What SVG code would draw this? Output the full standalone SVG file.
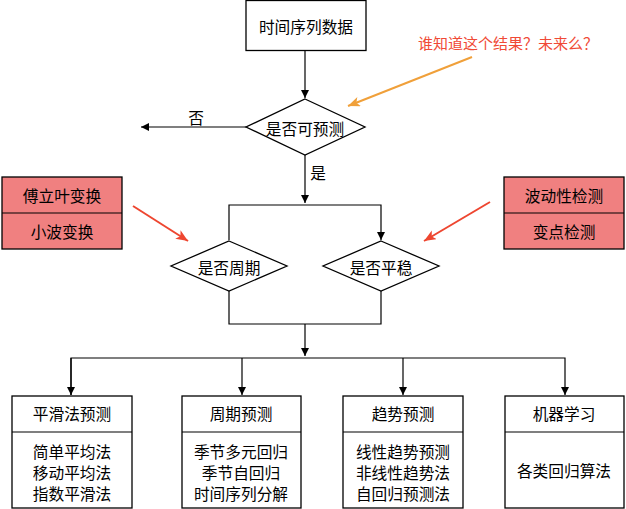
<svg xmlns="http://www.w3.org/2000/svg" width="626" height="509" viewBox="0 0 626 509">
<style>
text{font-family:"Noto Sans CJK SC","Noto Sans",sans-serif;font-size:15.7px;fill:#000;text-anchor:middle;dominant-baseline:central}
.box{fill:#fff;stroke:#000;stroke-width:1.3}
.pink{fill:#F08080;stroke:#000;stroke-width:1.3}
.ln{fill:none;stroke:#000;stroke-width:1.2}
text.red{fill:#F04A36;font-size:15px}
</style>
<defs>
<marker id="ah" markerUnits="userSpaceOnUse" markerWidth="10" markerHeight="10" refX="8" refY="4" orient="auto"><path d="M0,0 L8,4 L0,8 Z" fill="#000"/></marker>
<marker id="ahr" markerUnits="userSpaceOnUse" markerWidth="14" markerHeight="12" refX="12" refY="5" orient="auto"><path d="M0,0 L12,5 L0,10 L3,5 Z" fill="#EE4630"/></marker>
<marker id="aho" markerUnits="userSpaceOnUse" markerWidth="14" markerHeight="12" refX="12" refY="5" orient="auto"><path d="M0,0 L12,5 L0,10 L3,5 Z" fill="#F0A03A"/></marker>
</defs>
<g id="connectors">
<path class="ln" d="M305,50 V98" marker-end="url(#ah)"/>
<path class="ln" d="M246,127 H141" marker-end="url(#ah)"/>
<path class="ln" d="M305,155 V203" marker-end="url(#ah)"/>
<path class="ln" d="M229,240 V205 H381 V240" marker-end="url(#ah)"/>
<path class="ln" d="M229,291 V324 H381 V291"/>
<path class="ln" d="M305,324 V356" marker-end="url(#ah)"/>
<path class="ln" d="M71,395 V358 H565 V395" marker-end="url(#ah)"/>
<path class="ln" d="M242,358 V395" marker-end="url(#ah)"/>
<path class="ln" d="M403,358 V395" marker-end="url(#ah)"/>
<path class="ln" d="M71,358 V395" marker-end="url(#ah)"/>
<path fill="none" stroke="#EE4630" stroke-width="2" d="M133,206 L188,241" marker-end="url(#ahr)"/>
<path fill="none" stroke="#EE4630" stroke-width="2" d="M490,202 L424,241" marker-end="url(#ahr)"/>
<path fill="none" stroke="#F0A03A" stroke-width="2" d="M472,57 L348,106" marker-end="url(#aho)"/>
<text x="196" y="117">否</text>
<text x="318" y="172">是</text>
</g>
<g id="note"><text class="red" x="508" y="42">谁知道这个结果？未来么？</text></g>
<g id="start"><rect class="box" x="246" y="0.5" width="120" height="50"/><text x="306" y="26">时间序列数据</text></g>
<g id="predictable"><path class="box" d="M305,99 L365,127 L305,155 L246,127 Z"/><text x="305" y="128">是否可预测</text></g>
<g id="periodic"><path class="box" d="M229,241 L287,266 L229,291 L171,266 Z"/><text x="229" y="267">是否周期</text></g>
<g id="stationary"><path class="box" d="M381,241 L439,266 L381,291 L323,266 Z"/><text x="381" y="267">是否平稳</text></g>
<g id="fourier"><rect class="pink" x="2" y="177" width="120" height="72"/><line class="ln" x1="2" y1="213" x2="122" y2="213"/><text x="62" y="195">傅立叶变换</text><text x="62" y="231">小波变换</text></g>
<g id="volatility"><rect class="pink" x="504" y="177" width="120" height="72"/><line class="ln" x1="504" y1="213" x2="624" y2="213"/><text x="564" y="195">波动性检测</text><text x="564" y="231">变点检测</text></g>
<g id="smooth"><rect class="box" x="12" y="396" width="120" height="112"/><line class="ln" x1="12" y1="432" x2="132" y2="432"/><text x="72" y="413">平滑法预测</text><text x="72" y="451">简单平均法</text><text x="72" y="472">移动平均法</text><text x="72" y="493">指数平滑法</text></g>
<g id="period"><rect class="box" x="182" y="396" width="119" height="112"/><line class="ln" x1="182" y1="432" x2="301" y2="432"/><text x="241" y="413">周期预测</text><text x="241" y="451">季节多元回归</text><text x="241" y="472">季节自回归</text><text x="241" y="493">时间序列分解</text></g>
<g id="trend"><rect class="box" x="343" y="396" width="120" height="112"/><line class="ln" x1="343" y1="432" x2="463" y2="432"/><text x="403" y="413">趋势预测</text><text x="403" y="451">线性趋势预测</text><text x="403" y="472">非线性趋势法</text><text x="403" y="493">自回归预测法</text></g>
<g id="ml"><rect class="box" x="505" y="396" width="119" height="112"/><line class="ln" x1="505" y1="432" x2="624" y2="432"/><text x="564" y="413">机器学习</text><text x="564" y="470">各类回归算法</text></g>
</svg>
